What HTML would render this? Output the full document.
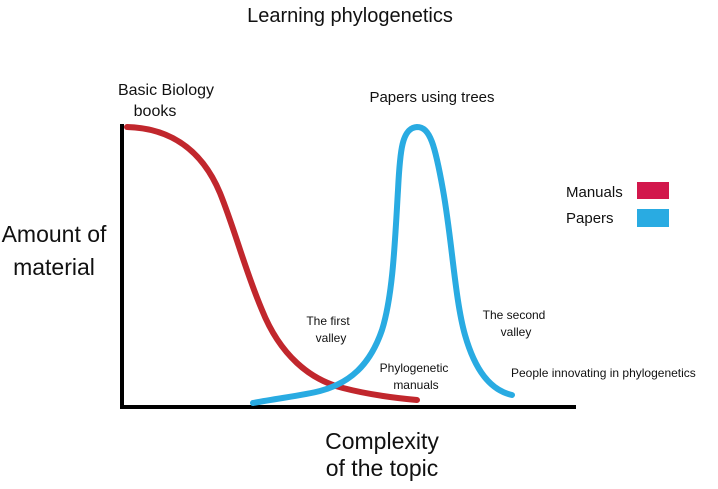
<!DOCTYPE html>
<html><head><style>
body{margin:0;background:#fff;width:718px;height:484px;overflow:hidden}
svg text{font-family:"Liberation Sans",sans-serif;fill:#111}
</style></head><body>
<svg width="718" height="484" viewBox="0 0 718 484">
<text x="350" y="22" font-size="20" text-anchor="middle">Learning phylogenetics</text>
<text x="166" y="95" font-size="16" text-anchor="middle">Basic Biology</text>
<text x="155" y="116" font-size="16" text-anchor="middle">books</text>
<text x="432" y="102" font-size="15" text-anchor="middle">Papers using trees</text>
<text x="54" y="242" font-size="23" text-anchor="middle">Amount of</text>
<text x="54" y="275" font-size="23" text-anchor="middle">material</text>
<text x="382" y="449" font-size="23" text-anchor="middle">Complexity</text>
<text x="382" y="476" font-size="23" text-anchor="middle">of the topic</text>
<text x="328" y="325" font-size="12" text-anchor="middle">The first</text>
<text x="331" y="342" font-size="12" text-anchor="middle">valley</text>
<text x="514" y="319" font-size="12" text-anchor="middle">The second</text>
<text x="516" y="336" font-size="12" text-anchor="middle">valley</text>
<text x="414" y="372" font-size="12" text-anchor="middle">Phylogenetic</text>
<text x="416" y="389" font-size="12" text-anchor="middle">manuals</text>
<text x="511" y="377" font-size="12">People innovating in phylogenetics</text>
<text x="566" y="197" font-size="15">Manuals</text>
<text x="566" y="223" font-size="15">Papers</text>
<rect x="637" y="182" width="32" height="17" fill="#d2174c"/>
<rect x="637" y="209" width="32" height="18" fill="#29abe2"/>
<path d="M122 124 V408 M120 407 H576" stroke="#000" stroke-width="4" fill="none"/>
<path d="M127 127 C165 128 200 145 220 193 C235 230 245 270 262 310 C280 355 310 380 343 388 C370 395 395 398 417 400" stroke="#c1272d" stroke-width="6" fill="none" stroke-linecap="round"/>
<path d="M253 403 C280 398 305 395 320 391 C350 383 370 365 382 330 C393 295 395 240 398 190 C400 150 402 128 417 127 C430 127 435 145 443 190 C452 240 455 300 465 335 C475 370 490 390 512 395" stroke="#29abe2" stroke-width="6" fill="none" stroke-linecap="round"/>
</svg>
</body></html>
